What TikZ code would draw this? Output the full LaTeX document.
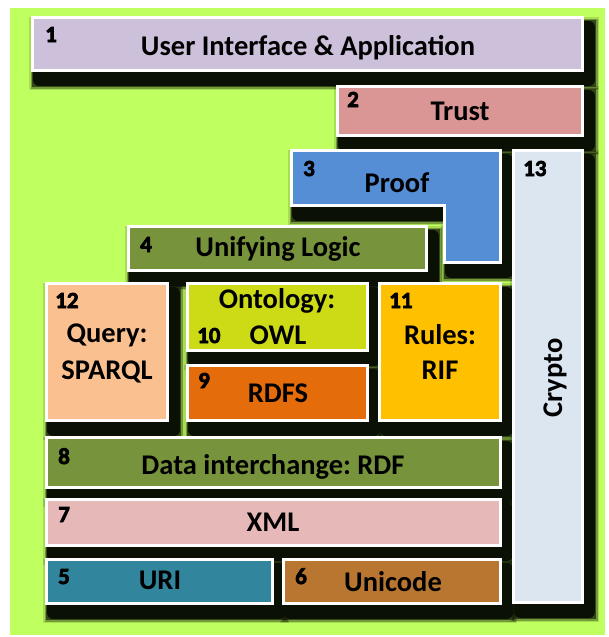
\documentclass[tikz,border=0pt]{standalone}
\usepackage{fontspec}
\setmainfont{Carlito}
\newfontfamily\numfont{Carlito Bold}[FakeBold=3]

\definecolor{bggreen}{RGB}{192,255,96}
\definecolor{shadowdark}{RGB}{10,16,4}
\definecolor{cUI}{RGB}{204,192,218}
\definecolor{cTrust}{RGB}{217,150,148}
\definecolor{cProof}{RGB}{85,142,213}
\definecolor{cCrypto}{RGB}{220,230,240}
\definecolor{cOlive}{RGB}{119,147,60}
\definecolor{cQuery}{RGB}{250,192,144}
\definecolor{cOnto}{RGB}{205,218,22}
\definecolor{cRDFS}{RGB}{228,108,10}
\definecolor{cRules}{RGB}{255,192,0}
\definecolor{cXML}{RGB}{230,185,184}
\definecolor{cURI}{RGB}{49,133,156}
\definecolor{cUni}{RGB}{184,118,48}

% outlines of the layers
\def\shUI{(32,17) rectangle (582,70)}
\def\shTrust{(337,86) rectangle (582,135)}
\def\shProof{(291,150) -- (500,150) -- (500,262) -- (444,262) -- (444,205) -- (291,205) -- cycle}
\def\shCrypto{(513,150) rectangle (582,602)}
\def\shLogic{(128,226) rectangle (426,270)}
\def\shQuery{(46,283) rectangle (167,420)}
\def\shOnto{(187,283) rectangle (367,350)}
\def\shRDFS{(187,365) rectangle (367,420)}
\def\shRules{(379,283) rectangle (500,420)}
\def\shRDF{(46,437) rectangle (500,487)}
\def\shXML{(46,499) rectangle (500,545)}
\def\shURI{(46,559) rectangle (272,603)}
\def\shUni{(283,559) rectangle (500,603)}

\begin{document}
\frenchspacing
\begin{tikzpicture}[x=1pt,y=-1pt,
  softshadow/.style={shift={(7,10)}, line join=round,
    preaction={draw=shadowdark, line width=20pt, opacity=0.14},
    preaction={draw=shadowdark, line width=17pt, opacity=0.32},
    preaction={draw=shadowdark, line width=14pt, opacity=0.6},
    fill=shadowdark, draw=shadowdark, line width=12pt},
  layerbox/.style={draw=white, line width=3pt},
  title/.style={font=\bfseries\fontsize{28.5}{30}\selectfont, inner sep=0pt, anchor=base},
  num/.style={font=\numfont\fontsize{23}{24}\selectfont, inner sep=0pt, anchor=base west},
]
\useasboundingbox (0,0) rectangle (609,637);
\fill[bggreen] (10,8) rectangle (605,635);

% drop shadows, all beneath the layers
\foreach \sh in {\shUI,\shTrust,\shProof,\shCrypto,\shLogic,\shQuery,\shOnto,
                 \shRDFS,\shRules,\shRDF,\shXML,\shURI,\shUni}
  {\path[softshadow] \sh;}

% layer 1
\path[layerbox, fill=cUI] \shUI;
\node[num] (n1) at (45,42) {1};
\node[title] (t1) at (308,55) {User Interface \& Application};

% layer 2
\path[layerbox, fill=cTrust] \shTrust;
\node[num] (n2) at (347,107) {2};
\node[title] (t2) at (460,120) {Trust};

% layer 3 (L-shaped)
\path[layerbox, fill=cProof] \shProof;
\node[num] (n3) at (303,176) {3};
\node[title] (t3) at (397,192) {Proof};

% layer 13
\path[layerbox, fill=cCrypto] \shCrypto;
\node[num] (n13) at (523,176) {13};
\node[title, rotate=90] (t13) at (562,378) {Crypto};

% layer 4
\path[layerbox, fill=cOlive] \shLogic;
\node[num] (n4) at (140,252) {4};
\node[title] (t4) at (278,256) {Unifying Logic};

% layer 12
\path[layerbox, fill=cQuery] \shQuery;
\node[num] (n12) at (55,308) {12};
\node[title] (t12a) at (107,342) {Query:};
\node[title] (t12b) at (107,379) {SPARQL};

% layer 10
\path[layerbox, fill=cOnto] \shOnto;
\node[title] (t10a) at (277,308) {Ontology:};
\node[num] (n10) at (197,343) {10};
\node[title] (t10b) at (278,344) {OWL};

% layer 9
\path[layerbox, fill=cRDFS] \shRDFS;
\node[num] (n9) at (198,388) {9};
\node[title] (t9) at (278,402) {RDFS};

% layer 11
\path[layerbox, fill=cRules] \shRules;
\node[num] (n11) at (389,308) {11};
\node[title] (t11a) at (440,344) {Rules:};
\node[title] (t11b) at (440,379) {RIF};

% layer 8
\path[layerbox, fill=cOlive] \shRDF;
\node[num] (n8) at (58,464) {8};
\node[title] (t8) at (273,474) {Data interchange: RDF};

% layer 7
\path[layerbox, fill=cXML] \shXML;
\node[num] (n7) at (58,522) {7};
\node[title] (t7) at (273,531) {XML};

% layer 5
\path[layerbox, fill=cURI] \shURI;
\node[num] (n5) at (58,584) {5};
\node[title] (t5) at (160,589) {URI};

% layer 6
\path[layerbox, fill=cUni] \shUni;
\node[num] (n6) at (295,584) {6};
\node[title] (t6) at (393,591) {Unicode};
\end{tikzpicture}
\end{document}
